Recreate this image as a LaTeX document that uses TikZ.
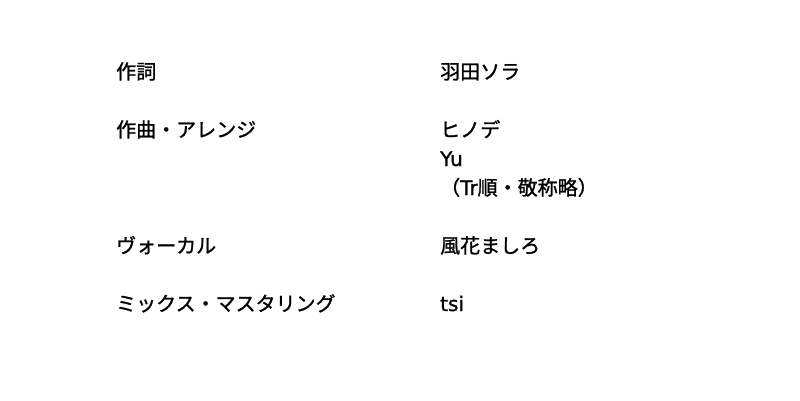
\documentclass[tikz,border=0pt]{standalone}
\usepackage{fontspec}
\setmainfont{Noto Sans CJK JP}[FakeBold=1.2]
\newfontfamily\lat{DejaVu Sans}[FakeBold=1.2]
\begin{document}
\begin{tikzpicture}[x=1pt,y=-1pt,
  lbl/.style={anchor=base west,inner sep=0pt,font=\fontsize{20}{23}\selectfont},
  latin/.style={font=\lat\fontsize{20}{23}\selectfont}]
\useasboundingbox[fill=white] (0,0) rectangle (800,400);
\node[lbl] (l1) at (116,79) {作詞};
\node[lbl] (l2) at (116,137) {作曲・アレンジ};
\node[lbl] (l3) at (116,253) {ヴォーカル};
\node[lbl] (l4) at (116,311) {ミックス・マスタリング};
\node[lbl] (r1) at (440,79) {羽田ソラ};
\node[lbl] (r2) at (440,137) {ヒノデ};
\node[lbl,latin] (r3) at (440,166) {Yu};
\node[lbl] (r4) at (440,195) {（{\lat Tr}順・敬称略）};
\node[lbl] (r5) at (440,253) {風花ましろ};
\node[lbl,latin] (r6) at (440,311) {tsi};
\end{tikzpicture}
\end{document}
